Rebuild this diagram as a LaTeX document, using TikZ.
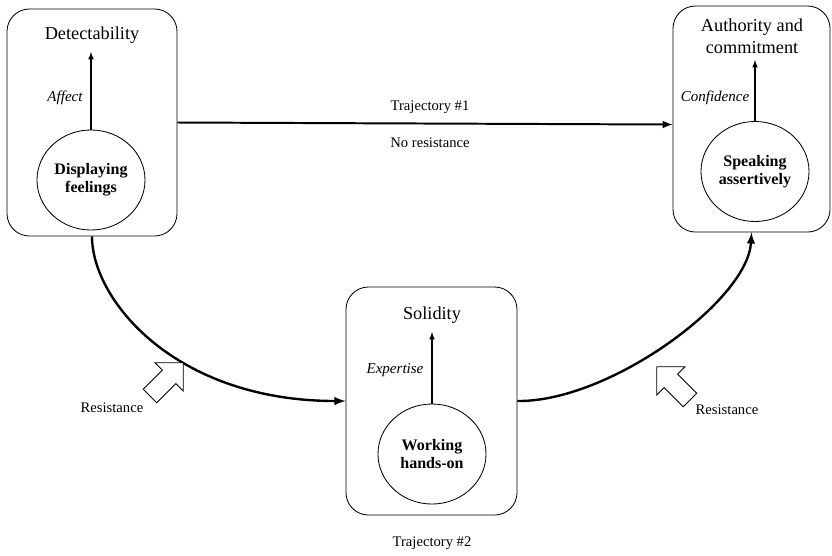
\documentclass[tikz,border=0pt]{standalone}
\usepackage{fontspec}
\setmainfont{Liberation Serif}
\usetikzlibrary{arrows}
\usetikzlibrary{shapes.geometric}

\begin{document}
\begin{tikzpicture}[x=0.025cm,y=-0.025cm,>=latex]

\tikzstyle{stage}=[draw,rounded corners=16pt,line width=0.6pt]
\tikzstyle{act}=[draw,ellipse,line width=0.6pt,minimum width=2.7cm,minimum height=2.5cm,inner sep=0pt,align=center,font=\fontsize{11.4}{13}\selectfont\bfseries]
\tikzstyle{title}=[align=center,font=\fontsize{13}{15.4}\selectfont]
\tikzstyle{means}=[font=\fontsize{10.7}{12}\selectfont\itshape]
\tikzstyle{note}=[font=\fontsize{10.4}{12}\selectfont]
\tikzstyle{route}=[->,line width=1.7pt]
\tikzstyle{rise}=[->,line width=0.8pt]

\def\block{(0,-9.5) -- (27,-9.5) -- (27,-20) -- (47,0) -- (27,20) -- (27,9.5) -- (0,9.5) -- cycle}

\useasboundingbox (0,0) rectangle (832,555);

% the three stages
\node[stage,minimum width=4.25cm,minimum height=5.675cm] (detbox) at (92,122.5) {};
\node[stage,minimum width=3.925cm,minimum height=5.65cm] (authbox) at (751.5,119) {};
\node[stage,minimum width=4.275cm,minimum height=5.7cm] (solbox) at (431.5,401) {};

\node[title] (detect) at (92,35) {Detectability};
\node[title] (auth) at (752,36) {Authority and\\commitment};
\node[title] (solid) at (432,315) {Solidity};

\node[act] (feel) at (91,180) {Displaying\\feelings};
\node[act] (speak) at (755,171.5) {Speaking\\assertively};
\node[act] (work) at (432,454) {Working\\hands-on};

\coordinate (detTip) at (91,52);
\coordinate (authTip) at (755,60);
\coordinate (solTip) at (432,332);
\draw[rise] (feel) -- (detTip);
\draw[rise] (speak) -- (authTip);
\draw[rise] (work) -- (solTip);

\node[means] (affect) at (65,98) {Affect};
\node[means] (conf) at (715,98) {Confidence};
\node[means] (expert) at (395,370) {Expertise};

% trajectories
\draw[route,line width=1.4pt] (detbox.east) -- (authbox.184);
\node[note] (traj1) at (430,107) {Trajectory \#1};
\node[note] (nores) at (430,143) {No resistance};

\draw[route] (detbox.south) .. controls (92,300) and (175,401) .. (solbox.west);
\draw[route] (solbox.east) .. controls (610,402) and (748,300) .. (authbox.south);
\node[note] (traj2) at (432,543) {Trajectory \#2};

% resistance
\draw[line width=0.6pt,fill=white,shift={(150,396)},rotate=45] \block;
\draw[line width=0.6pt,fill=white,shift={(690,400)},rotate=135] \block;
\node[note] (resL) at (112,408) {Resistance};
\node[note] (resR) at (727,410) {Resistance};
\end{tikzpicture}
\end{document}
